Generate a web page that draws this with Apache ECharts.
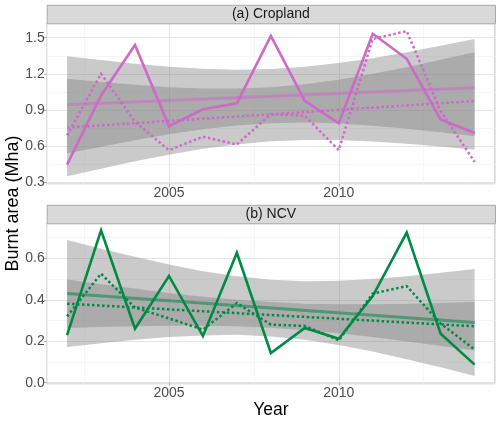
<!DOCTYPE html>
<html>
<head>
<meta charset="utf-8">
<script src="https://cdn.jsdelivr.net/npm/echarts@6/dist/echarts.min.js"></script>
<style>html,body{margin:0;padding:0;background:#fff}#c{width:500px;height:421px}</style>
</head>
<body>
<div id="c"></div>
<script>
// ---- data ----
const years = [2002, 2003, 2004, 2005, 2006, 2007, 2008, 2009, 2010, 2011, 2012, 2013, 2014];
const trendYears = [2002, 2014];

const cropSolid  = [0.445, 1.02, 1.44, 0.765, 0.905, 0.955, 1.515, 0.975, 0.788, 1.533, 1.325, 0.82, 0.708];
const cropDotted = [0.688, 1.20, 0.80, 0.565, 0.677, 0.612, 0.865, 0.85, 0.565, 1.49, 1.555, 0.89, 0.467];
const cropTrendSolid  = [0.942, 1.085];
const cropTrendDotted = [0.753, 0.974];
const cropBandSolidLo  = [0.537, 0.594, 0.648, 0.697, 0.739, 0.770, 0.789, 0.794, 0.787, 0.768, 0.743, 0.713, 0.680];
const cropBandSolidHi  = [1.347, 1.314, 1.284, 1.259, 1.241, 1.234, 1.239, 1.258, 1.289, 1.330, 1.379, 1.433, 1.490];
const cropBandDottedLo = [0.348, 0.411, 0.472, 0.527, 0.576, 0.613, 0.639, 0.650, 0.649, 0.638, 0.619, 0.596, 0.569];
const cropBandDottedHi = [1.158, 1.131, 1.108, 1.089, 1.078, 1.077, 1.089, 1.114, 1.151, 1.200, 1.255, 1.316, 1.379];

const ncvSolid  = [0.229, 0.735, 0.26, 0.515, 0.225, 0.627, 0.143, 0.264, 0.212, 0.418, 0.724, 0.236, 0.087];
const ncvDotted = [0.32, 0.526, 0.362, 0.31, 0.256, 0.384, 0.28, 0.274, 0.204, 0.43, 0.466, 0.285, 0.16];
const ncvTrendSolid  = [0.43, 0.29];
const ncvTrendDotted = [0.381, 0.272];
const ncvBandSolidLo  = [0.172, 0.190, 0.207, 0.220, 0.228, 0.231, 0.223, 0.207, 0.182, 0.150, 0.113, 0.074, 0.032];
const ncvBandSolidHi  = [0.688, 0.646, 0.607, 0.570, 0.538, 0.513, 0.497, 0.489, 0.492, 0.500, 0.513, 0.530, 0.548];
const ncvBandDottedLo = [0.264, 0.269, 0.272, 0.275, 0.275, 0.272, 0.265, 0.253, 0.238, 0.220, 0.199, 0.178, 0.155];
const ncvBandDottedHi = [0.498, 0.475, 0.454, 0.433, 0.415, 0.400, 0.389, 0.381, 0.378, 0.378, 0.381, 0.384, 0.389];

const xTicks = [2005, 2010];
const cropYTicks = [0.3, 0.6, 0.9, 1.2, 1.5];
const ncvYTicks = [0.0, 0.2, 0.4, 0.6];

const panelTitles = ['(a) Cropland', '(b) NCV'];
const yTitle = 'Burnt area (Mha)';
const xTitle = 'Year';

// ---- styling ----
const MAGENTA = '#CD69C9';
const GREEN = '#008B45';
const FONT = '"Liberation Sans", Arial, Helvetica, sans-serif';
const MAJOR = '#e4e4e4';
const MINOR = '#f2f2f2';
const BORDER = '#a8a8a8';
const BAND = 'rgba(128,128,128,0.42)';
const DOT = [2.5, 2.5];

const L = 46.7, R = 5, GH = 160.4;
const gridTops = [23.3, 223.3];
const xRange = [2001.4, 2014.6];
const yRanges = [[0.286, 1.62], [-0.005, 0.769]];
const yMajor = [0.3, 0.2];
const yMinor = [0.15, 0.1];
const yTickSets = [cropYTicks, ncvYTicks];

const grids = gridTops.map(t => ({left: L, right: R, top: t, height: GH, show: true,
  borderColor: BORDER, borderWidth: 1, backgroundColor: 'transparent', containLabel: false}));

const xAxes = [], yAxes = [];
[0, 1].forEach(g => {
  xAxes.push({type: 'value', gridIndex: g, min: xRange[0], max: xRange[1], minInterval: 5, maxInterval: 5,
    axisLine: {show: false},
    axisTick: {show: true, length: 3, lineStyle: {color: BORDER}, customValues: xTicks},
    axisLabel: {show: true, customValues: xTicks, color: '#4d4d4d', fontSize: 14, fontFamily: FONT, margin: 2,
      formatter: v => String(v)},
    splitLine: {show: true, lineStyle: {color: MAJOR, width: 1}}, z: 1});
  xAxes.push({type: 'value', gridIndex: g, min: xRange[0], max: xRange[1], minInterval: 2.5, maxInterval: 2.5,
    axisLine: {show: false}, axisTick: {show: false}, axisLabel: {show: false},
    splitLine: {show: true, lineStyle: {color: MINOR, width: 0.7}}, z: 0});
  yAxes.push({type: 'value', gridIndex: g, min: yRanges[g][0], max: yRanges[g][1],
    minInterval: yMajor[g], maxInterval: yMajor[g],
    axisLine: {show: false},
    axisTick: {show: true, length: 2.5, lineStyle: {color: BORDER}, customValues: yTickSets[g]},
    axisLabel: {show: true, customValues: yTickSets[g], color: '#4d4d4d', fontSize: 14, fontFamily: FONT, margin: 2,
      formatter: v => Number(v).toFixed(1)},
    splitLine: {show: true, lineStyle: {color: MAJOR, width: 1}}, z: 1});
  yAxes.push({type: 'value', gridIndex: g, min: yRanges[g][0], max: yRanges[g][1],
    minInterval: yMinor[g], maxInterval: yMinor[g],
    axisLine: {show: false}, axisTick: {show: false}, axisLabel: {show: false},
    splitLine: {show: true, lineStyle: {color: MINOR, width: 0.7}}, z: 0});
});

function band(g, lo, hi) {
  return {
    type: 'custom', xAxisIndex: g * 2, yAxisIndex: g * 2, silent: true, z: 2,
    data: [[years[0], lo[0]]],
    renderItem: function (params, api) {
      const pts = [];
      for (let i = 0; i < years.length; i++) pts.push(api.coord([years[i], hi[i]]));
      for (let i = years.length - 1; i >= 0; i--) pts.push(api.coord([years[i], lo[i]]));
      return {type: 'polygon', shape: {points: pts}, style: {fill: BAND}};
    }
  };
}
function line(g, xs, vals, color, width, type, opacity, z) {
  return {
    type: 'line', xAxisIndex: g * 2, yAxisIndex: g * 2, silent: true, z: z,
    data: xs.map((x, i) => [x, vals[i]]), symbol: 'none',
    lineStyle: {color: color, width: width, type: type, opacity: opacity, cap: 'butt', join: 'miter'}
  };
}

const series = [
  band(0, cropBandSolidLo, cropBandSolidHi),
  band(0, cropBandDottedLo, cropBandDottedHi),
  line(0, trendYears, cropTrendSolid, MAGENTA, 3, 'solid', 0.55, 3),
  line(0, trendYears, cropTrendDotted, MAGENTA, 2.5, DOT, 1, 3),
  line(0, years, cropDotted, MAGENTA, 2.5, DOT, 1, 4),
  line(0, years, cropSolid, MAGENTA, 2.6, 'solid', 1, 4),
  band(1, ncvBandSolidLo, ncvBandSolidHi),
  band(1, ncvBandDottedLo, ncvBandDottedHi),
  line(1, trendYears, ncvTrendSolid, GREEN, 3, 'solid', 0.55, 3),
  line(1, trendYears, ncvTrendDotted, GREEN, 2.5, DOT, 1, 3),
  line(1, years, ncvDotted, GREEN, 2.5, DOT, 1, 4),
  line(1, years, ncvSolid, GREEN, 2.6, 'solid', 1, 4)
];

const graphic = [];
gridTops.forEach((t, g) => {
  graphic.push({type: 'rect', left: L, top: t - 18.5,
    shape: {width: 500 - R - L, height: 18.5},
    style: {fill: '#d9d9d9', stroke: BORDER, lineWidth: 1}, z: 10});
  graphic.push({type: 'text', x: L + (500 - R - L) / 2, y: t - 9.2,
    style: {text: panelTitles[g], fill: '#1a1a1a', font: '14px ' + FONT, textAlign: 'center', textVerticalAlign: 'middle'}, z: 11});
});
graphic.push({type: 'text', x: 13, y: 203.5, rotation: Math.PI / 2,
  style: {text: yTitle, fill: '#000', font: '18px ' + FONT, textAlign: 'center', textVerticalAlign: 'middle'}});
graphic.push({type: 'text', x: L + (500 - R - L) / 2, y: 410.5,
  style: {text: xTitle, fill: '#000', font: '17.5px ' + FONT, textAlign: 'center', textVerticalAlign: 'middle'}});

const chart = echarts.init(document.getElementById('c'), null, {renderer: 'canvas'});
chart.setOption({
  animation: false,
  backgroundColor: '#fff',
  textStyle: {fontFamily: FONT},
  grid: grids,
  xAxis: xAxes,
  yAxis: yAxes,
  series: series,
  graphic: graphic
});
</script>
</body>
</html>
